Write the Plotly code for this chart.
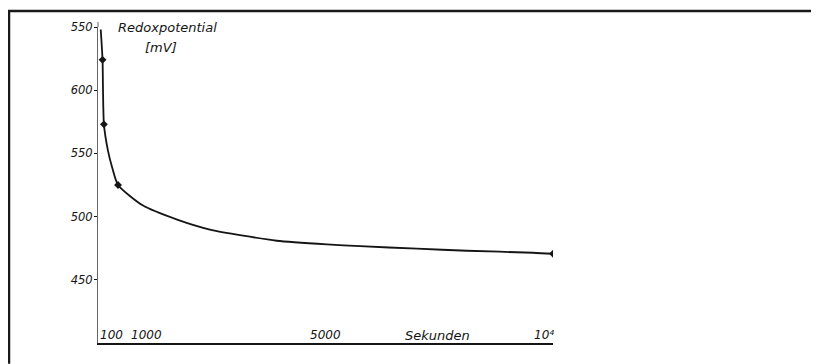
import plotly.graph_objects as go

# ---- data ----
time_s = [60, 100, 110, 130, 220, 310, 440, 990, 1740, 2460, 3190, 3930, 5030, 5760, 7010, 8110, 9560, 10000]
redox_mv = [648, 624, 600, 573, 552, 539, 525, 508.7, 497.6, 489.7, 484.9, 480.9, 478.0, 476.6, 474.6, 473, 471.4, 470.6]
marker_t = [100, 130, 440, 10000]
marker_v = [624, 573, 525, 470.6]

y_tickvals = [450, 500, 550, 600, 650]
y_ticktext = ["450", "500", "550", "600", "550"]
x_tickvals = [100, 1000, 5000, 10000]
x_ticktext = ["100", "1000", "5000", "10⁴"]
x_label_shift = [9, 3, 0, -9]  # hand-lettered offsets (px) from tick position

INK = "#151515"
FONT = dict(family="DejaVu Sans", color=INK, style="italic")

fig = go.Figure()
fig.add_trace(go.Scatter(x=time_s, y=redox_mv, mode="lines",
                         line=dict(color=INK, width=1.8, shape="spline", smoothing=0.6),
                         hoverinfo="skip", showlegend=False))
fig.add_trace(go.Scatter(x=marker_t, y=marker_v, mode="markers",
                         marker=dict(symbol="diamond", size=6, color=INK),
                         showlegend=False))

OFF = 8  # page body margin
W, H = 819 - OFF, 364 - OFF
L, T = 98 - OFF, 25 - OFF
R = W - (553 - OFF)
B = H - (343 - OFF)
pw, ph = W - L - R, H - T - B

def dx(px):
    return (px - OFF - L) / pw

def dy(py):
    return (H - B - (py - OFF)) / ph

annotations = [
    dict(text="Redoxpotential", xref="x domain", yref="y domain",
         x=dx(116), y=dy(25), xanchor="left", yanchor="middle",
         showarrow=False, font=dict(size=13, **FONT)),
    dict(text="[mV]", xref="x domain", yref="y domain",
         x=dx(143), y=dy(46), xanchor="left", yanchor="middle",
         showarrow=False, font=dict(size=13, **FONT)),
    dict(text="Sekunden", xref="x domain", yref="y domain",
         x=dx(437), y=dy(335), xanchor="center", yanchor="middle",
         showarrow=False, font=dict(size=13, **FONT)),
]
for tv, tt, sh in zip(x_tickvals, x_ticktext, x_label_shift):
    annotations.append(dict(text=tt, xref="x", yref="y domain", x=tv, xshift=sh,
                            y=dy(335), xanchor="center", yanchor="middle",
                            showarrow=False, font=dict(size=12, **FONT)))

fig.update_layout(
    width=W, height=H,
    margin=dict(l=L, r=R, t=T, b=B, pad=0),
    paper_bgcolor="white", plot_bgcolor="white",
    font=FONT,
    xaxis=dict(range=[0, 10000], showgrid=False, zeroline=False,
               showline=True, linecolor=INK, linewidth=1.5,
               showticklabels=False, ticks=""),
    yaxis=dict(range=[400, 650], showgrid=False, zeroline=False,
               showline=True, linecolor="#666666", linewidth=1,
               tickvals=y_tickvals, ticktext=y_ticktext, ticks="outside",
               ticklen=3, tickcolor=INK, ticklabelstandoff=-1,
               tickfont=dict(size=11.5, **FONT)),
    shapes=[
        dict(type="line", xref="x domain", yref="y domain",
             x0=dx(7.5), x1=dx(819), y0=dy(9), y1=dy(9),
             line=dict(color="#1a1a1a", width=2.5)),
        dict(type="line", xref="x domain", yref="y domain",
             x0=dx(9), x1=dx(9), y0=dy(9), y1=dy(364),
             line=dict(color="#1a1a1a", width=2.5)),
        dict(type="line", xref="x domain", yref="y domain",
             x0=0, x1=0, y0=1, y1=dy(20),
             line=dict(color="#666666", width=1)),
    ],
    annotations=annotations,
)

fig.write_html("out.html")
